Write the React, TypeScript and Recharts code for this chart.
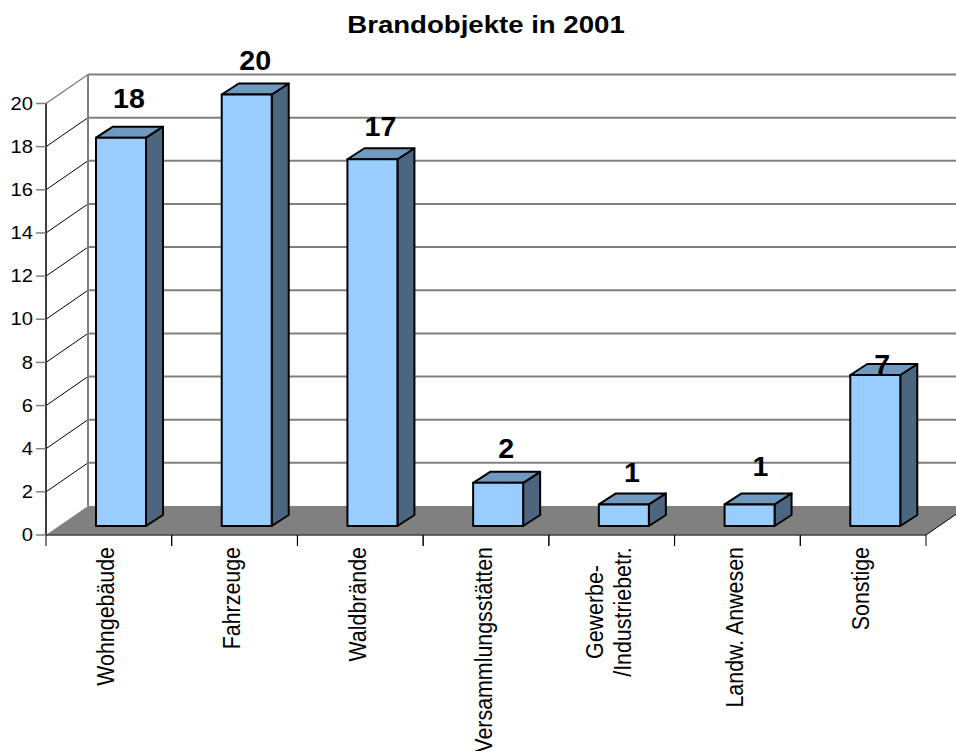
import React from "react";
import { BarChart, Bar, XAxis, YAxis, CartesianGrid, LabelList } from "recharts";

const categories = ["Wohngebäude", "Fahrzeuge", "Waldbrände", "Versammlungsstätten", "Gewerbe-\n/Industriebetr.", "Landw. Anwesen", "Sonstige"];
const counts = [18, 20, 17, 2, 1, 1, 7];
const yTicks = [0, 2, 4, 6, 8, 10, 12, 14, 16, 18, 20];
const rows = categories.map((name, i) => ({ name, count: counts[i] }));

const W = 956, H = 751;
const L = 46, R = 926, T = 103.5, B = 535;
const DX = 42, DY = -29;
const FONT = '"Liberation Sans", Arial, sans-serif';
const labelNudge = [[8, -48], [8.5, -43], [8, -41], [8, -43], [8, -41], [11, -47], [7, -19]];

function Wall() {
  return (
    <g>
      <polygon points={`${L},${B} ${L + DX},${B + DY} ${R + DX},${B + DY} ${R},${B}`} fill="#808080" />
      <line x1={L + DX} y1={T + DY} x2={L + DX} y2={B + DY} stroke="#808080" strokeWidth={2} />
      <line x1={L} y1={T} x2={L + DX} y2={T + DY} stroke="#808080" strokeWidth={1.5} />
      <line x1={L + DX} y1={T + DY} x2={W} y2={T + DY} stroke="#808080" strokeWidth={2} />
      <line x1={R} y1={B} x2={R + DX} y2={B + DY} stroke="#000" strokeWidth={1} />
      <line x1={L} y1={B} x2={R} y2={B} stroke="#404040" strokeWidth={1.5} />
      <line x1={L} y1={T} x2={L} y2={B} stroke="#000" strokeWidth={1.5} />
    </g>
  );
}

function gridLine(p: any) {
  const isTop = Math.abs(p.y1 - T) < 1;
  const isBottom = Math.abs(p.y1 - B) < 1;
  if (isTop || isBottom) return <g key={p.key ?? p.y1} />;
  return (
    <g key={p.key ?? p.y1}>
      <line x1={p.x1 + DX} y1={p.y1 + DY} x2={W} y2={p.y1 + DY} stroke="#808080" strokeWidth={2} />
      <line x1={p.x1} y1={p.y1} x2={p.x1 + DX} y2={p.y1 + DY} stroke="#000" strokeWidth={1} />
    </g>
  );
}

function Bar3D(p: any) {
  const x = p.x + 12, w = p.width, h = p.height;
  const y = p.y - 9;
  const dx = 17, dy = -11;
  return (
    <g stroke="#000" strokeWidth={2} strokeLinejoin="round">
      <polygon points={`${x + w},${y} ${x + w + dx},${y + dy} ${x + w + dx},${y + h + dy} ${x + w},${y + h}`} fill="#4d6680" />
      <polygon points={`${x},${y} ${x + dx},${y + dy} ${x + w + dx},${y + dy} ${x + w},${y}`} fill="#7099c0" />
      <rect x={x} y={y} width={w} height={h} fill="#99ccff" />
    </g>
  );
}

function ValueLabel(p: any) {
  const [nx, ny] = labelNudge[p.index];
  return (
    <text transform={`translate(${p.x + 12 + p.width / 2 + nx},${p.y + ny}) scale(1.06,1)`} textAnchor="middle" dominantBaseline="central" fontFamily={FONT} fontSize={27} fontWeight={700} fill="#000">
      {p.value}
    </text>
  );
}

function CategoryTick(p: any) {
  const lines = String(p.payload.value).split("\n");
  const cx = p.x - 3;
  const gap = 28;
  const two = lines.length > 1;
  return (
    <g>
      <line x1={p.x - 62.86} y1={B} x2={p.x - 62.86} y2={B + 11} stroke="#000" strokeWidth={1} />
      <line x1={p.x + 62.86} y1={B} x2={p.x + 62.86} y2={B + 11} stroke="#000" strokeWidth={1} />
      {lines.map((t, i) => {
        const lx = cx + (i - (lines.length - 1) / 2) * gap;
        return (
          <text
            key={t}
            transform={`translate(${lx},${two ? B + 77 : B + 12}) rotate(-90) scale(1,1.15)`}
            textAnchor={two ? "middle" : "end"}
            dominantBaseline="central"
            fontFamily={FONT}
            fontSize={21.4}
            fill="#000"
          >
            {t}
          </text>
        );
      })}
    </g>
  );
}

function ValueTick(p: any) {
  return (
    <g>
      <line x1={L - 10} y1={p.y} x2={L} y2={p.y} stroke="#808080" strokeWidth={1.5} />
      <text transform={`translate(${L - 13},${p.y}) scale(1.12,1)`} textAnchor="end" dominantBaseline="central" fontFamily={FONT} fontSize={18} fill="#000">
        {p.payload.value}
      </text>
    </g>
  );
}

export default function App() {
  return (
    <div style={{ position: "absolute", left: 0, top: 0, width: W, height: H, background: "#fff" }}>
      <svg width={W} height={50} style={{ position: "absolute", left: 0, top: 0 }}>
        <text transform="translate(486,33) scale(1.2,1)" textAnchor="middle" fontFamily={FONT} fontSize={23} fontWeight={700} fill="#000">Brandobjekte in 2001</text>
      </svg>
      <BarChart width={W} height={H} data={rows} barSize={50} margin={{ top: T, bottom: 0, left: 0, right: W - R }} style={{ position: "absolute", left: 0, top: 0 }}>
        <Wall />
        <CartesianGrid vertical={false} horizontal={gridLine} syncWithTicks />
        <XAxis dataKey="name" axisLine={false} tickLine={false} interval={0} tick={CategoryTick} height={H - B} />
        <YAxis domain={[0, 20]} ticks={yTicks} interval={0} width={L} axisLine={false} tickLine={false} tick={ValueTick} />
        <Bar dataKey="count" isAnimationActive={false} shape={Bar3D}>
          <LabelList dataKey="count" content={ValueLabel} />
        </Bar>
      </BarChart>
    </div>
  );
}
